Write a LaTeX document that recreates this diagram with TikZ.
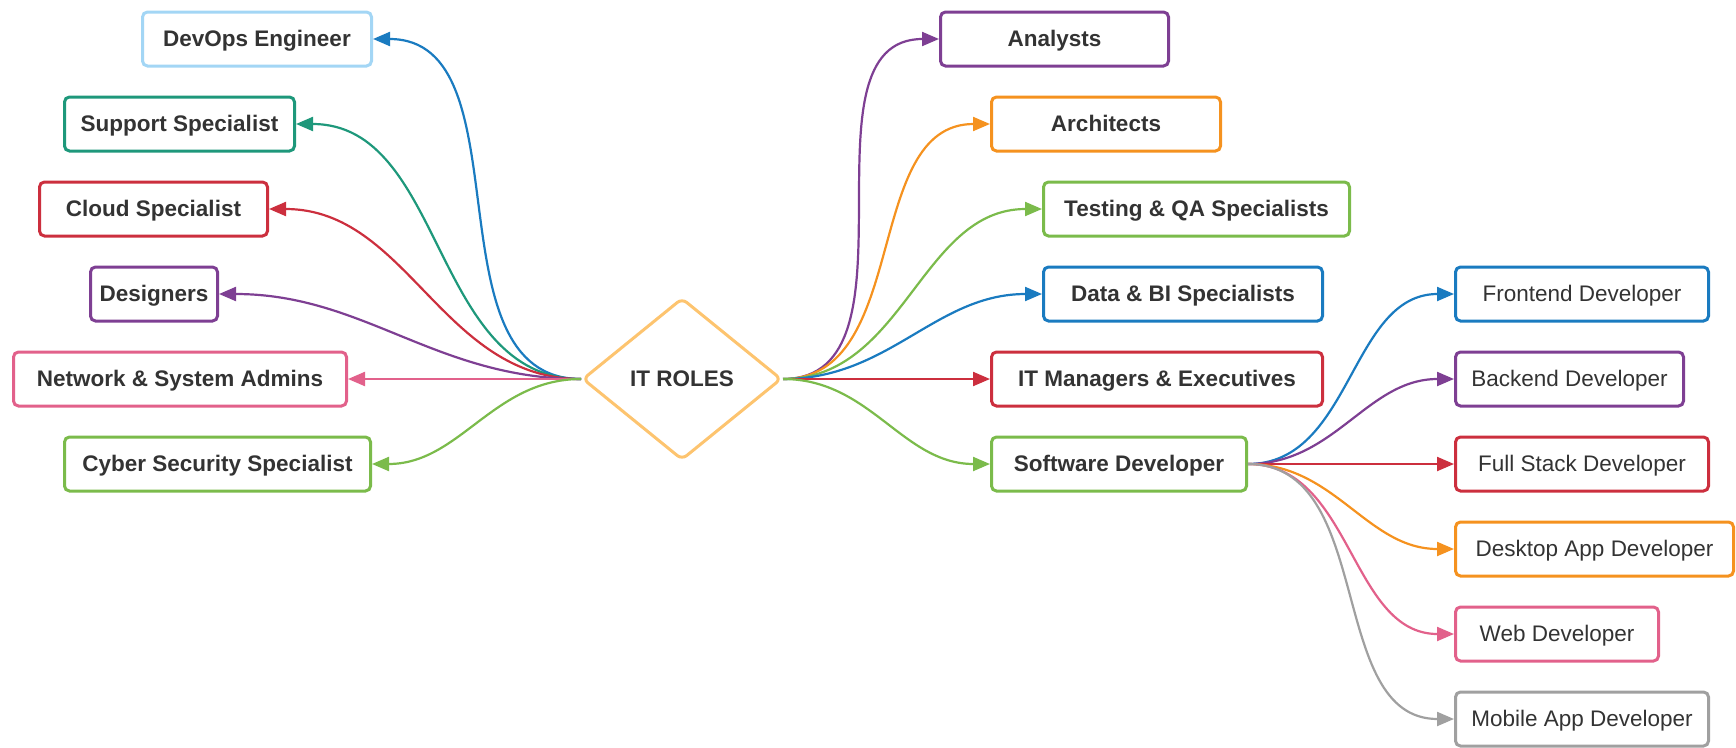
\documentclass[tikz,border=0pt]{standalone}
\usepackage{fontspec}
\setmainfont{Liberation Sans}
\usetikzlibrary{arrows.meta,shapes.geometric}

\definecolor{cblue}{HTML}{1A7BC0}
\definecolor{clight}{HTML}{A3D6F5}
\definecolor{cteal}{HTML}{1E987B}
\definecolor{cred}{HTML}{CC2F3E}
\definecolor{cpurple}{HTML}{7E3F93}
\definecolor{cpink}{HTML}{E2618B}
\definecolor{cgreen}{HTML}{7BBB4B}
\definecolor{corange}{HTML}{F5921F}
\definecolor{cgray}{HTML}{A0A0A0}
\definecolor{cdiamond}{HTML}{FDC46F}
\definecolor{ctext}{HTML}{333333}

\newcommand\rolefont{\fontsize{22.5}{27}\selectfont}

\tikzset{
  role/.style={draw=#1, line width=3pt, rounded corners=5pt, fill=white,
    minimum height=54pt, inner sep=0pt, text height=16pt, text depth=1pt,
    text=ctext, font=\rolefont\bfseries},
  devbox/.style={role=#1, font=\rolefont},
  link/.style={draw=#1, line width=2.2pt, -{Triangle[length=17pt,width=14pt]}},
}

\begin{document}
\begin{tikzpicture}[x=1pt,y=-1pt]
\useasboundingbox (0,0) rectangle (1736,747);

\node[draw=cdiamond, line width=3pt, diamond, aspect=1.22, minimum width=199pt,
  minimum height=162pt, rounded corners=6pt, inner sep=0pt, fill=white,
  text height=16pt, text depth=1pt,
  text=ctext, font=\rolefont\bfseries] (itroles) at (682,379) {IT ROLES};

% left side
\node[role=clight, minimum width=229pt] (devops) at (257,39) {DevOps Engineer};
\node[role=cteal, minimum width=230pt] (support) at (179.5,124) {Support Specialist};
\node[role=cred, minimum width=228pt] (cloud) at (153.5,209) {Cloud Specialist};
\node[role=cpurple, minimum width=127pt] (designers) at (154,294) {Designers};
\node[role=cpink, minimum width=333pt] (netadmin) at (180,379) {Network \& System Admins};
\node[role=cgreen, minimum width=306pt] (cyber) at (217.5,464) {Cyber Security Specialist};

% right side
\node[role=cpurple, minimum width=228pt] (analysts) at (1054.5,39) {Analysts};
\node[role=corange, minimum width=229pt] (architects) at (1106,124) {Architects};
\node[role=cgreen, minimum width=306pt] (testing) at (1196.5,209) {Testing \& QA Specialists};
\node[role=cblue, minimum width=279pt] (data) at (1183,294) {Data \& BI Specialists};
\node[role=cred, minimum width=331pt] (itmgr) at (1157,379) {IT Managers \& Executives};
\node[role=cgreen, minimum width=255pt] (software) at (1119,464) {Software Developer};

% developers
\node[devbox=cblue, minimum width=253pt] (frontend) at (1582,294) {Frontend Developer};
\node[devbox=cpurple, minimum width=228pt] (backend) at (1569.5,379) {Backend Developer};
\node[devbox=cred, minimum width=253pt] (fullstack) at (1582,464) {Full Stack Developer};
\node[devbox=corange, minimum width=278pt] (desktop) at (1594.5,549) {Desktop App Developer};
\node[devbox=cpink, minimum width=203pt] (web) at (1557,634) {Web Developer};
\node[devbox=cgray, minimum width=253pt] (mobile) at (1582,719) {Mobile App Developer};

\path[link=cblue] (itroles.west) to[out=180,in=0] (devops.east);
\path[link=cteal] (itroles.west) to[out=180,in=0] (support.east);
\path[link=cred] (itroles.west) to[out=180,in=0] (cloud.east);
\path[link=cpurple] (itroles.west) to[out=180,in=0] (designers.east);
\path[link=cpink] (itroles.west) to[out=180,in=0] (netadmin.east);
\path[link=cgreen] (itroles.west) to[out=180,in=0] (cyber.east);

\path[link=cpurple] (itroles.east) to[out=0,in=180] (analysts.west);
\path[link=corange] (itroles.east) to[out=0,in=180] (architects.west);
\path[link=cgreen] (itroles.east) to[out=0,in=180] (testing.west);
\path[link=cblue] (itroles.east) to[out=0,in=180] (data.west);
\path[link=cred] (itroles.east) to[out=0,in=180] (itmgr.west);
\path[link=cgreen] (itroles.east) to[out=0,in=180] (software.west);

\path[link=cblue] (software.east) to[out=0,in=180] (frontend.west);
\path[link=cpurple] (software.east) to[out=0,in=180] (backend.west);
\path[link=cred] (software.east) to[out=0,in=180] (fullstack.west);
\path[link=corange] (software.east) to[out=0,in=180] (desktop.west);
\path[link=cpink] (software.east) to[out=0,in=180] (web.west);
\path[link=cgray] (software.east) to[out=0,in=180] (mobile.west);
\end{tikzpicture}
\end{document}
